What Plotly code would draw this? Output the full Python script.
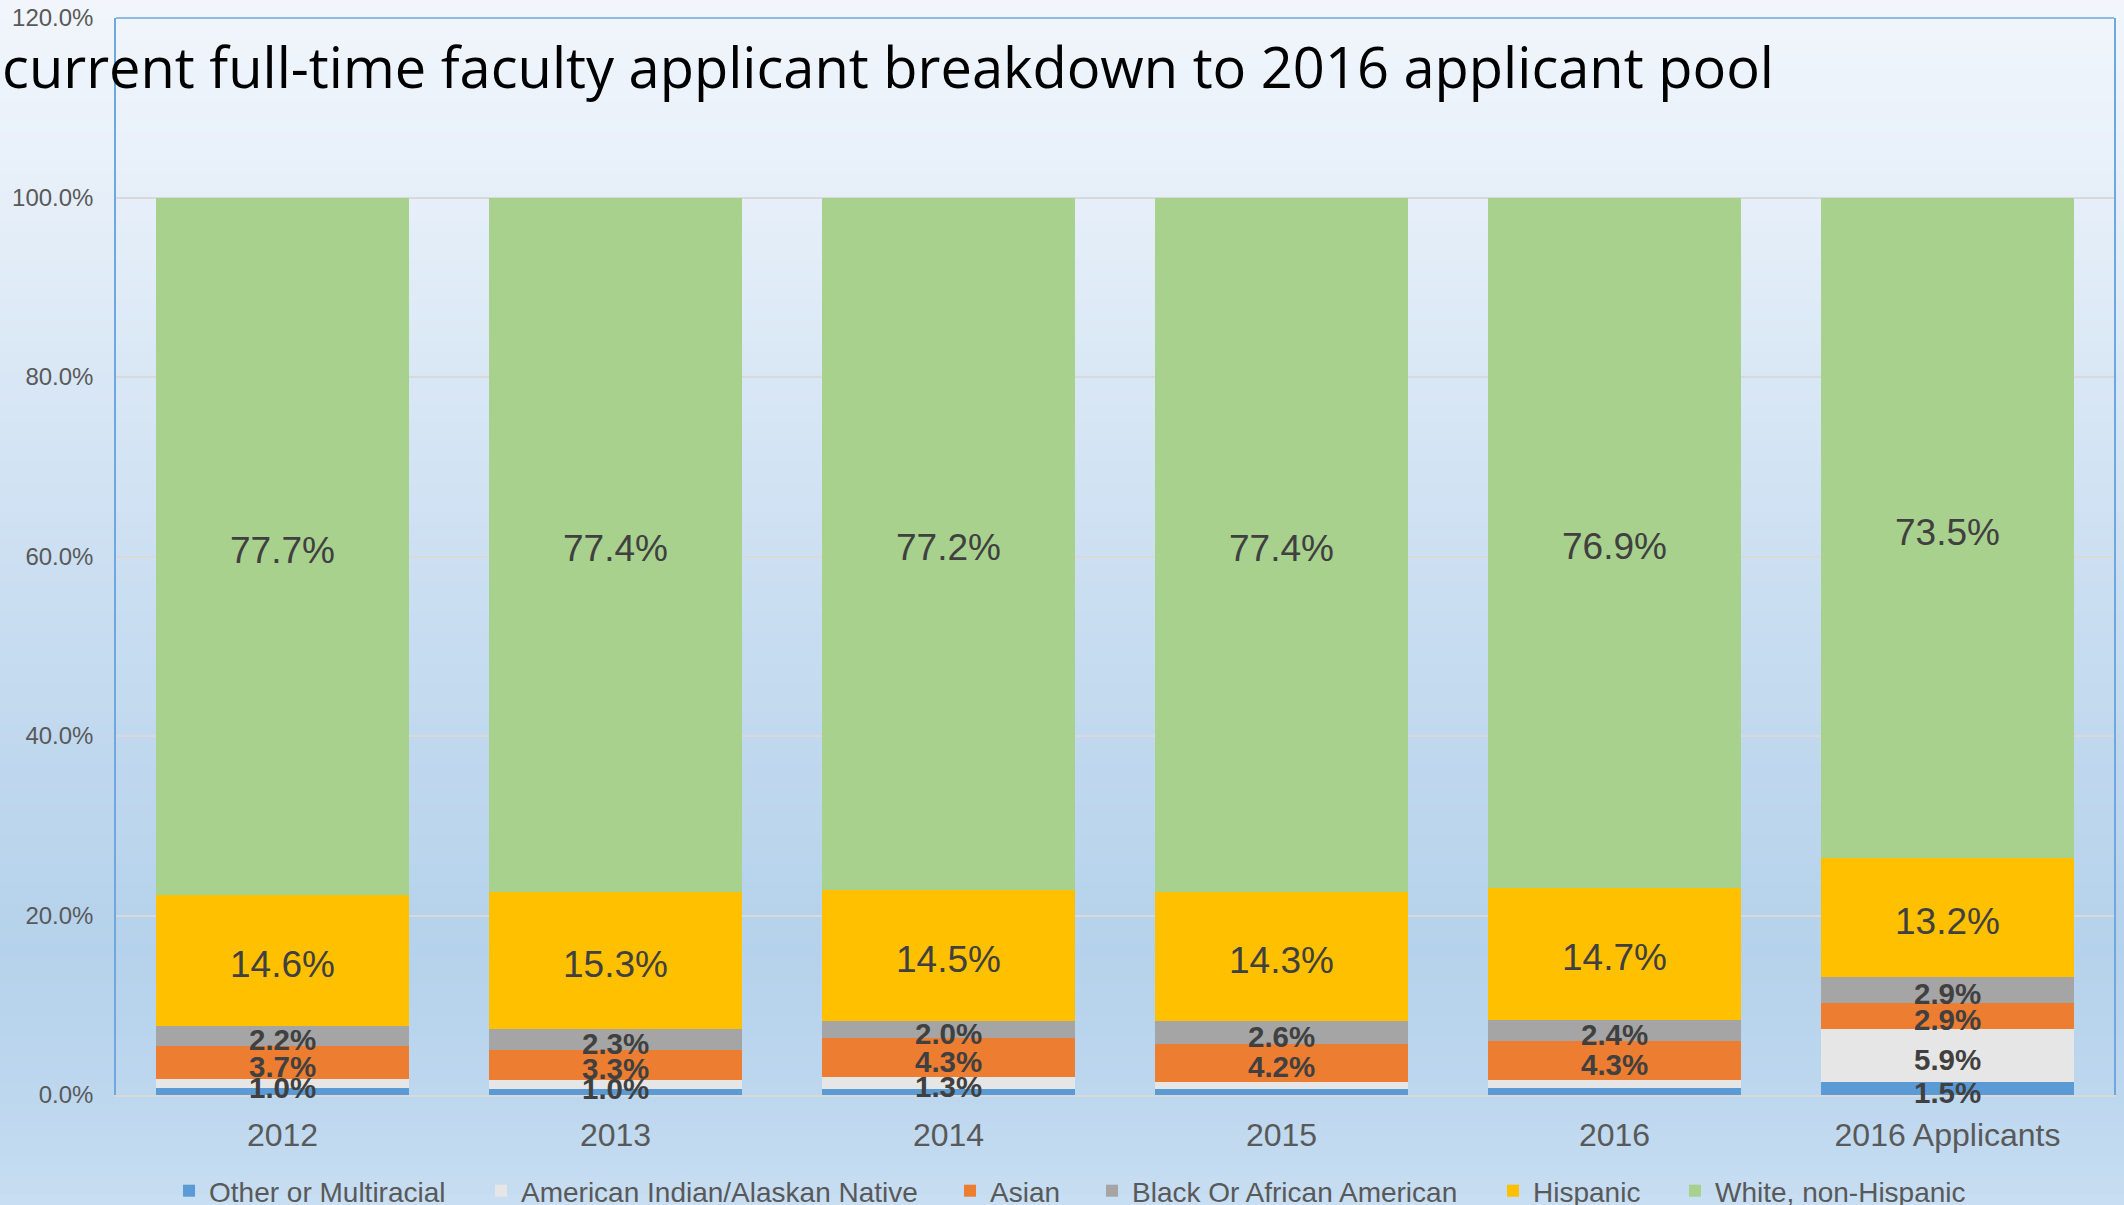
import plotly.graph_objects as go

categories = ["2012", "2013", "2014", "2015", "2016", "2016 Applicants"]
series_names = ["Other or Multiracial", "American Indian/Alaskan Native", "Asian",
                "Black Or African American", "Hispanic", "White, non-Hispanic"]
other = [0.8, 0.7, 0.7, 0.7, 0.8, 1.5]
amind = [1.0, 1.0, 1.3, 0.8, 0.9, 5.9]
asian = [3.7, 3.3, 4.3, 4.2, 4.3, 2.9]
black = [2.2, 2.3, 2.0, 2.6, 2.4, 2.9]
hispanic = [14.6, 15.3, 14.5, 14.3, 14.7, 13.2]
white = [77.7, 77.4, 77.2, 77.4, 76.9, 73.5]
# which data labels are shown in the original
show_other = [False, False, False, False, False, True]
show_amind = [True, True, True, False, False, True]
show_all = [True] * 6

colors = ["#5B9BD5", "#E7E6E6", "#ED7D31", "#A5A5A5", "#FFC000", "#A9D18E"]
series = [other, amind, asian, black, hispanic, white]
shows = [show_other, show_amind, show_all, show_all, show_all, show_all]
bold = [True, True, True, True, False, False]

W, H = 2124, 1205
ml, mr, mt, mb = 116, 10, 18, 110
ph = H - mt - mb
pw = W - ml - mr

# legend text start positions (px) for each series' own legend box
legend_text_x = [209, 521, 990, 1132, 1533, 1715]
legend_ids = ["legend", "legend2", "legend3", "legend4", "legend5", "legend6"]

fig = go.Figure()
annotations = []
base = [0.0] * len(categories)
for name, vals, col, sh, b, lid in zip(series_names, series, colors, shows, bold, legend_ids):
    fig.add_trace(go.Bar(
        name=name, x=categories, y=[v / 100 for v in vals],
        marker=dict(color=col, line=dict(width=0)),
        hoverinfo="skip", legend=lid,
    ))
    for i, (v, s) in enumerate(zip(vals, sh)):
        if s:
            annotations.append(dict(
                x=i, y=(base[i] + v / 2) / 100, xref="x", yref="y",
                text=f"{v:.1f}%", showarrow=False, yshift=-4,
                font=dict(family="Liberation Sans, Arial", size=29.5 if b else 37,
                          color="#404040", weight="bold" if b else "normal")))
        base[i] += v

# gradient background bands
stops = [(0, (242, 246, 252)), (200, (230, 239, 249)), (500, (208, 226, 243)),
         (750, (192, 216, 238)), (950, (181, 210, 236)), (1100, (189, 215, 238)),
         (1205, (200, 222, 242))]


def col_at(y):
    for (y0, c0), (y1, c1) in zip(stops[:-1], stops[1:]):
        if y0 <= y <= y1:
            t = (y - y0) / (y1 - y0)
            return "rgb(%d,%d,%d)" % tuple(round(a + (b_ - a) * t) for a, b_ in zip(c0, c1))
    return "rgb(%d,%d,%d)" % stops[-1][1]


shapes = []
N = 120
for i in range(N):
    y0 = H * i / N
    y1 = H * (i + 1) / N + 1
    shapes.append(dict(type="rect", xref="paper", yref="paper", layer="below",
                       x0=-ml / pw - 0.01, x1=(W - ml) / pw + 0.01,
                       y0=(H - mb - y1) / ph, y1=(H - mb - y0) / ph,
                       fillcolor=col_at((y0 + y1) / 2), line=dict(width=0)))
# top border of plot area
shapes.append(dict(type="line", xref="paper", yref="paper", x0=0, x1=1, y0=1, y1=1,
                   line=dict(color="#6FA8DC", width=1.5)))

legend_y = (H - mb - 1191) / ph
legends = {}
for lid, tx in zip(legend_ids, legend_text_x):
    legends[lid] = dict(orientation="h", xref="paper", yref="paper",
                        x=(tx - 40 - ml) / pw, xanchor="left",
                        y=legend_y, yanchor="middle",
                        font=dict(family="Liberation Sans, Arial", size=28, color="#595959"),
                        bgcolor="rgba(0,0,0,0)", borderwidth=0)

fig.update_layout(
    width=W, height=H,
    margin=dict(l=ml, r=mr, t=mt, b=mb, autoexpand=False),
    barmode="stack", bargap=0.243,
    paper_bgcolor="rgb(242,246,252)", plot_bgcolor="rgba(0,0,0,0)",
    shapes=shapes, annotations=annotations,
    title=dict(text="current full-time faculty applicant breakdown to 2016 applicant pool",
               font=dict(family="Open Sans", size=56, color="#000000"),
               xref="container", x=0.001, xanchor="left",
               yref="container", y=1 - 68 / H, yanchor="middle"),
    font=dict(family="Liberation Sans, Arial", color="#595959"),
    showlegend=True,
    xaxis=dict(type="category", categoryorder="array", categoryarray=categories,
               range=[-0.5, len(categories) - 0.5],
               showline=True, linecolor="#D9D9D9", linewidth=1.5, ticks="",
               tickfont=dict(size=32, color="#595959"), ticklabelstandoff=11,
               showgrid=False, fixedrange=True, automargin=False),
    yaxis=dict(range=[0, 1.2], dtick=0.2, tickformat=".1%", showgrid=True,
               gridcolor="#D9D9D9", gridwidth=1.5, zeroline=False,
               showline=True, linecolor="#6FA8DC", linewidth=1.5, mirror=True,
               ticks="", ticklabelstandoff=16, automargin=False,
               tickfont=dict(size=24, color="#595959"), fixedrange=True),
    **legends,
)

fig.write_html("out.html", config={"displayModeBar": False},
               post_script="document.body.style.margin='0';document.body.style.overflow='hidden';")
